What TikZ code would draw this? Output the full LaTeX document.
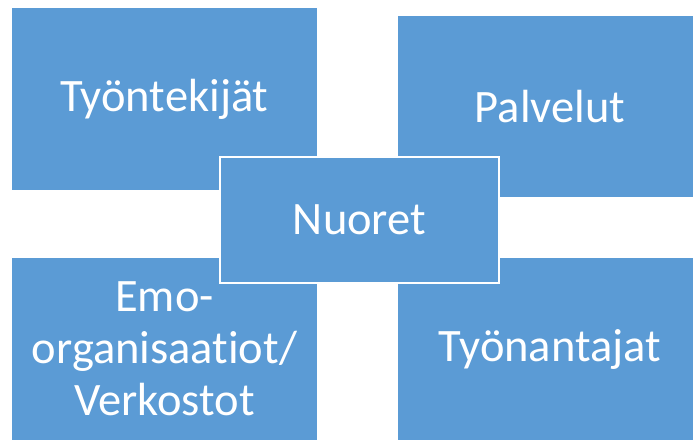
\documentclass[tikz,border=0pt]{standalone}
\usepackage{fontspec}
\setmainfont{Carlito}[Ligatures=NoCommon]
\definecolor{boxblue}{HTML}{5B9BD5}
\tikzset{
  blockbox/.style={draw=white, line width=1.2pt, fill=boxblue, text=white,
    inner sep=0pt, minimum width=#1, align=center,
    font=\fontsize{46.5pt}{52pt}\selectfont},
}
\begin{document}
\begin{tikzpicture}[x=1pt,y=-1pt]
\useasboundingbox (0,0) rectangle (693,439);
\clip (0,0) rectangle (693,439);
\node[blockbox=307pt, minimum height=184pt] (tl) at (164.5,99) {Työntekijät};
\node[blockbox=306pt, minimum height=183pt] (tr) at (550,106.5) {Palvelut};
\node[blockbox=307pt, minimum height=184pt] (bl) at (164.5,349) {Emo-\\organisaatiot/\\Verkostot};
\node[blockbox=306pt, minimum height=184pt] (br) at (550,349) {Työnantajat};
\node[blockbox=279pt, minimum height=126pt] (c) at (359.5,220) {Nuoret};
\end{tikzpicture}
\end{document}
